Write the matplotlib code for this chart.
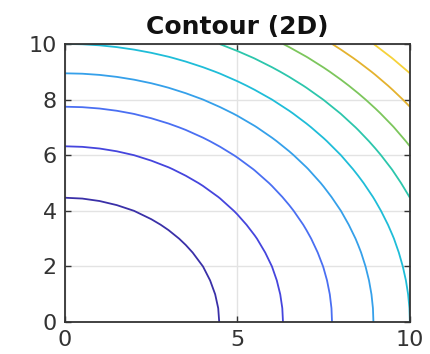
# Contour (2D) – filled-circle style contour of x^2 + y^2 on a square grid

import numpy as np
import matplotlib.pyplot as plt

# grid and levels
x_vals = np.linspace(0, 10, 21)
y_vals = np.linspace(0, 10, 21)
levels = [20, 40, 60, 80, 100, 120, 140, 160, 180]

x_ticks = [0, 5, 10]
y_ticks = [0, 2, 4, 6, 8, 10]

# parula-like line colours, one per level
line_colors = ["#3a30a8", "#4545dd", "#4a6ff2", "#35a0ea", "#1fbdd8",
               "#2cc6ac", "#7cc65c", "#e4b22e", "#f6d23a"]

X, Y = np.meshgrid(x_vals, y_vals)
Z = X**2 + Y**2

fig = plt.figure(figsize=(4.31, 3.54), dpi=100)
ax = fig.add_axes([0.151, 0.090, 0.800, 0.786])

ax.contour(X, Y, Z, levels=levels, colors=line_colors, linewidths=1.3)

ax.set_xlim(0, 10)
ax.set_ylim(0, 10)
ax.set_xticks(x_ticks)
ax.set_yticks(y_ticks)
ax.grid(True, color="#e3e3e3", linewidth=1)
ax.set_axisbelow(True)
ax.tick_params(direction="in", length=4, width=1, top=True, right=True,
               labelsize=16, colors="#333333", pad=6)
for s in ax.spines.values():
    s.set_color("#333333")
    s.set_linewidth(1.3)

ax.set_title("Contour (2D)", fontsize=18, fontweight="bold", color="#111111", pad=7)

fig.savefig("out.png", dpi=100)
